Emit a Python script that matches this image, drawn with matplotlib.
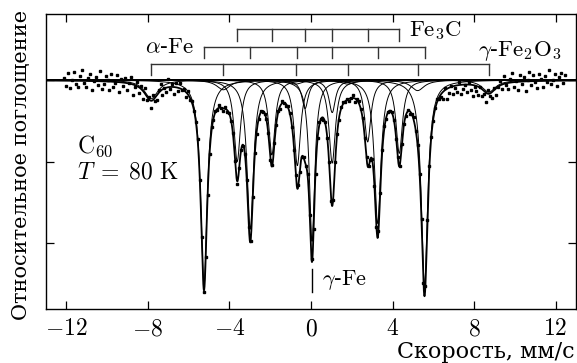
import numpy as np
import matplotlib
matplotlib.use('Agg')
import matplotlib.pyplot as plt

plt.rcParams['mathtext.fontset'] = 'cm'
plt.rcParams['font.family'] = ['DejaVu Serif']

# line positions (mm/s), depths and half widths of the fitted components
afe_pos = [-5.25, -2.98, -0.67, 1.04, 3.27, 5.57]
afe_depth = [2.52, 1.83, 1.05, 1.02, 1.76, 2.53]
afe_hw = 0.19

fe3c_pos = [-3.62, -1.92, -0.29, 1.04, 2.78, 4.33]
fe3c_depth = [1.0, 0.92, 0.35, 0.4, 0.76, 0.9]
fe3c_hw = 0.19

gfe_pos = [0.05]
gfe_depth = [1.98]
gfe_hw = 0.16

fe2o3_pos = [-7.84, -4.30, -0.75, 1.80, 5.23, 8.72]
fe2o3_depth = [0.23, 0.12, 0.05, 0.05, 0.13, 0.15]
fe2o3_hw = 0.4

# scatter of measured points around the fit (units of 0.01)
dev_left = [3, -6, 9, -9, 1, 11, -4, -8, 6, 13,
            -2, -7, 4, 8, -11, 0, 5, -5, 12, -9,
            -3, 7, 2, -10, 10, -6, -1, 8, -12, 4,
            -4, 6, -8, 1, 9, -13, -2, 5, -7, 3,
            -10, 7, -4, 2, -9, 6, -3, -6, 4, 8,
            -7, 1, -5, 10, -2, 3, -8, 5, -4, 7,
            -1, 2, -6, 4, -3]
dev_mid = [2, -1, 0, 3, -2, 1, -3, 2, 0, -1,
           4, -2, 1, -1, 3, 0, -3, 2, -2, 1,
           0, 3, -1, -4, 2, 1, -2, 0, 3, -1,
           -2, 1, 4, -3, 0, 2, -1, -2, 1, 3,
           -3, 0, 2, -1, 1, -4, 3, 0, -2, 2,
           1, -1, -3, 2, 4, -2, 0, 1, -1, 3,
           -2, 2, 0, -3, 1, 3, -1, -2, 2, 0,
           4, -1, -2, 1, 0, -3, 2, 3, -1, 1,
           -2, 0, 3, -4, 1, 2, -1, 0, -3, 2,
           1, -2, 3, 0, -1, 2, -3, 1, 4, -2,
           0, -1, 2, 1, -3, 3, -2, 0, 1, -1,
           2, -3, 0, 4, -2, 1, -1, 3, 0, -2,
           1, 2, -1, -3, 0, 3, -2]
dev_right = [-4, -9, 2, -12, -6, 1, -10, -3, -8, 4,
             -11, -5, -1, -9, 3, -7, -13, -2, -6, -10,
             1, -8, -4, -11, 5, -3, -7, 2, -9, 0,
             6, -5, 10, -2, -8, 4, 12, -6, 1, -10,
             8, -3, 5, -12, 2, 11, -5, 7, -1, -9,
             9, 3, -7, 6, -2, 13, -4, 1, 8, -6,
             4, 10, -3, 7]

xticks = [-12, -8, -4, 0, 4, 8, 12]


def lorentz(v, p, d, hw):
    return -d / (1 + ((v - p) / hw) ** 2)


components = []
for pos, dep, hw in [(afe_pos, afe_depth, afe_hw), (fe3c_pos, fe3c_depth, fe3c_hw),
                     (gfe_pos, gfe_depth, gfe_hw), (fe2o3_pos, fe2o3_depth, fe2o3_hw)]:
    for p, d in zip(pos, dep):
        components.append((p, d, hw))


def total(v):
    s = np.zeros_like(v)
    for p, d, hw in components:
        s += lorentz(v, p, d, hw)
    return s


dev = np.array(dev_left + dev_mid + dev_right) * 0.01
v_data = np.linspace(-12.1, 12.45, len(dev))
y_data = total(v_data) + dev

v = np.linspace(-13, 13, 3000)

fig = plt.figure(figsize=(5.77, 3.63), dpi=100)
ax = fig.add_axes([46 / 577, 54 / 363, 530 / 577, 295 / 363])

for p, d, hw in components:
    ax.plot(v, lorentz(v, p, d, hw), color='black', lw=0.7)
ax.plot(v, total(v), color='black', lw=1.3)
ax.plot(v_data, y_data, 's', color='black', ms=1.9)

# stick diagrams
def bracket(pos, y):
    ax.plot([pos[0], pos[-1]], [y, y], color='#333333', lw=1.0)
    for p in pos:
        ax.plot([p, p], [y, y - 0.14], color='#333333', lw=1.0)

bracket(fe3c_pos, 0.62)
bracket(afe_pos, 0.41)
bracket(fe2o3_pos, 0.20)

ax.text(-5.75, 0.40, r'$\alpha$-$\mathrm{Fe}$', fontsize=16.5, ha='right', va='center')
ax.text(4.8, 0.61, r'$\mathrm{Fe_3C}$', fontsize=16.5, ha='left', va='center')
ax.text(8.2, 0.36, r'$\gamma$-$\mathrm{Fe_2O_3}$', fontsize=16.5, ha='left', va='center')
ax.text(-11.5, -0.82, r'$\mathrm{C}_{60}$', fontsize=17, ha='left', va='center')
ax.text(-11.5, -1.13, r'$T\;=\;80\ \mathrm{K}$', fontsize=17, ha='left', va='center')
ax.plot([0.05, 0.05], [-2.32, -2.6], color='black', lw=1.0)
ax.text(0.55, -2.45, r'$\gamma$-$\mathrm{Fe}$', fontsize=16, ha='left', va='center')

ax.set_xlim(-13, 13)
ax.set_ylim(-2.81, 0.81)
ax.set_xticks(xticks)
ax.set_xticklabels([f'${t}$' for t in xticks])
ax.set_yticks([0, -1, -2])
ax.set_yticklabels([])
ax.tick_params(direction='in', top=True, right=True, length=6, width=0.9,
               labelsize=17, pad=6)
for s in ax.spines.values():
    s.set_linewidth(1.0)

fig.text(22 / 577, 1 - 165 / 363, 'Относительное поглощение', rotation=90,
         ha='center', va='center', fontsize=15)
fig.text(575 / 577, 1 - 352 / 363, 'Скорость, мм/с', ha='right', va='center',
         fontsize=16)

fig.savefig('out.png', dpi=100)
